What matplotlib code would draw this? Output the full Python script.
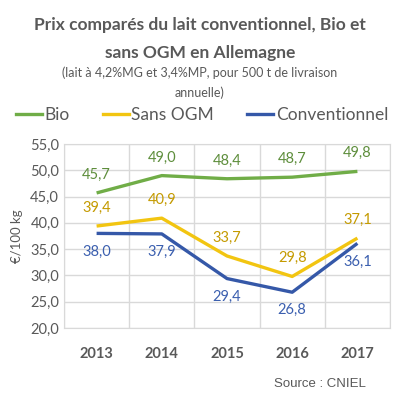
import matplotlib
matplotlib.use("Agg")
import matplotlib.pyplot as plt
from matplotlib.lines import Line2D

plt.rcParams['font.family'] = ['Lato', 'DejaVu Sans']

years = ['2013', '2014', '2015', '2016', '2017']
bio = [45.7, 49.0, 48.4, 48.7, 49.8]
sans_ogm = [39.4, 40.9, 33.7, 29.8, 37.1]
conv = [38.0, 37.9, 29.4, 26.8, 36.1]
y_ticks = [20, 25, 30, 35, 40, 45, 50, 55]

c_bio = '#70AD47'
c_ogm = '#F2C511'
c_conv = '#3558A8'
gris = '#595959'

fig = plt.figure(figsize=(4.0, 3.98), dpi=100)
ax = fig.add_axes([0.16, 0.176, 0.815, 0.462])

x = list(range(len(years)))
ax.plot(x, bio, color=c_bio, lw=2.4, solid_capstyle='butt')
ax.plot(x, sans_ogm, color=c_ogm, lw=2.4, solid_capstyle='butt')
ax.plot(x, conv, color=c_conv, lw=2.4, solid_capstyle='butt')

def lab(v):
    return f"{v:.1f}".replace('.', ',')

for i in x:
    ax.annotate(lab(bio[i]), (i, bio[i]), xytext=(0, 8), textcoords='offset points',
                ha='center', va='bottom', color='#5E8E3C', fontsize=10.5)
    ax.annotate(lab(sans_ogm[i]), (i, sans_ogm[i]), xytext=(0, 8), textcoords='offset points',
                ha='center', va='bottom', color='#C49A00', fontsize=10.5)
    ax.annotate(lab(conv[i]), (i, conv[i]), xytext=(0, -8), textcoords='offset points',
                ha='center', va='top', color='#3B5FAF', fontsize=10.5)

ax.set_xlim(-0.5, 4.5)
ax.set_ylim(20, 55)
ax.set_yticks(y_ticks)
ax.set_yticklabels([lab(v) for v in y_ticks], color=gris, fontsize=10.5)
ax.set_xticks(x)
ax.set_xticklabels(years, color=gris, fontsize=10.5, fontweight='bold')
ax.set_xticks([i - 0.5 for i in range(len(years) + 1)], minor=True)
ax.tick_params(axis='both', length=0, which='both')
ax.tick_params(axis='x', pad=14)
ax.grid(True, axis='y', color='#D9D9D9', lw=1)
ax.grid(True, axis='x', which='minor', color='#D9D9D9', lw=1)
ax.grid(False, axis='x', which='major')
for s in ax.spines.values():
    s.set_color('#D9D9D9')
ax.set_ylabel('€/100 kg', color=gris, fontsize=9.5, labelpad=5)

fig.text(0.5, 0.936, 'Prix comparés du lait conventionnel, Bio et', ha='center', va='center',
         fontsize=12.5, fontweight='bold', color=gris)
fig.text(0.5, 0.868, 'sans OGM en Allemagne', ha='center', va='center',
         fontsize=12.5, fontweight='bold', color=gris)
fig.text(0.5, 0.818, '(lait à 4,2%MG et 3,4%MP, pour 500 t de livraison', ha='center', va='center',
         fontsize=9, color=gris)
fig.text(0.5, 0.766, 'annuelle)', ha='center', va='center', fontsize=9, color=gris)

handles = [Line2D([], [], color=c_bio, lw=2.4), Line2D([], [], color=c_ogm, lw=2.4),
           Line2D([], [], color=c_conv, lw=2.4)]
fig.legend(handles, ['Bio', 'Sans OGM', 'Conventionnel'], loc='center', bbox_to_anchor=(0.505, 0.71),
           ncol=3, frameon=False, fontsize=12.5, handlelength=1.5, handletextpad=0.15,
           columnspacing=1.9, labelcolor=gris)

fig.text(0.915, 0.035, 'Source : CNIEL', ha='right', va='center', fontsize=9.5,
         color=gris, family=['Liberation Sans', 'DejaVu Sans'])

fig.savefig('out.png', dpi=100, facecolor='white')
